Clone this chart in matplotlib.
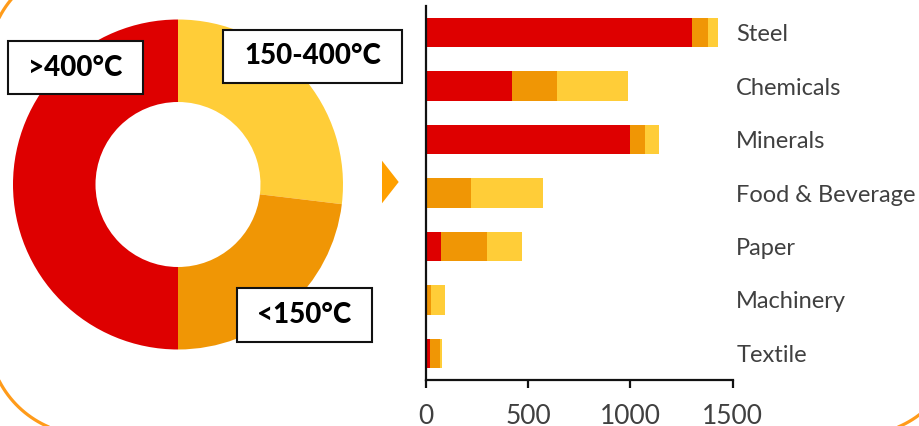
import matplotlib
matplotlib.use("Agg")
import matplotlib.pyplot as plt
from matplotlib.patches import Polygon, Rectangle
from matplotlib.lines import Line2D
from matplotlib.transforms import IdentityTransform
import numpy as np

plt.rcParams['font.family'] = ['Lato', 'DejaVu Sans']

# ---- data ----
donut_labels = [">400°C", "150-400°C", "<150°C"]
donut_values = [50.0, 26.9, 23.1]          # share of heat demand (%)

categories = ["Steel", "Chemicals", "Minerals", "Food & Beverage", "Paper", "Machinery", "Textile"]
above400 = [1300, 420, 1000, 0, 75, 0, 21]
below150 = [80, 220, 72, 220, 225, 24, 50]
mid150_400 = [50, 350, 70, 352, 171, 70, 9]
x_ticks = [0, 500, 1000, 1500]

RED = "#DE0000"
ORANGE = "#F09605"
YELLOW = "#FFCD38"

W, H = 920, 426
fig = plt.figure(figsize=(W / 100, H / 100), dpi=100)

# ---- donut ----
cx, cy, R = 178, 184.5, 165
dax = fig.add_axes([(cx - R) / W, (H - cy - R) / H, 2 * R / W, 2 * R / H])
vals = [donut_values[1], donut_values[2], donut_values[0]]
cols = [YELLOW, ORANGE, RED]
dax.pie(vals, colors=cols, startangle=90, counterclock=False, radius=1.0,
        wedgeprops=dict(width=0.5, edgecolor='none'))
dax.set_xlim(-1, 1)
dax.set_ylim(-1, 1)
dax.set_aspect('equal')
dax.axis('off')

# ---- bars ----
ax = fig.add_axes([425.7 / W, 46 / H, 307 / W, 374 / H])
y = np.arange(len(categories))
a = np.array(above400)
b = np.array(below150)
c = np.array(mid150_400)
ax.barh(y, a, height=0.55, color=RED, edgecolor='none')
ax.barh(y, b, left=a, height=0.55, color=ORANGE, edgecolor='none')
ax.barh(y, c, left=a + b, height=0.55, color=YELLOW, edgecolor='none')
ax.set_xlim(0, 1500)
ax.set_ylim(6.5, -0.5)
ax.set_xticks(x_ticks)
ax.set_xticklabels([str(t) for t in x_ticks])
ax.yaxis.tick_right()
ax.set_yticks(y)
ax.set_yticklabels(categories)
for s in ['top', 'right']:
    ax.spines[s].set_visible(False)
ax.spines['left'].set_linewidth(1.6)
ax.spines['bottom'].set_linewidth(1.6)
ax.spines['left'].set_color('#111111')
ax.spines['bottom'].set_color('#111111')
ax.tick_params(axis='x', length=6, width=1.6, color='#111111', pad=11,
               labelsize=19, labelcolor='#404040')
ax.tick_params(axis='y', length=0, pad=2.5, labelsize=17, labelcolor='#404040')

# ---- label boxes ----
boxes = [(8, 41, 143, 94), (223, 30, 402, 83), (237, 288, 372, 342)]
for lab, (x0, y0, x1, y1) in zip(donut_labels, boxes):
    fig.patches.append(Rectangle((x0 / W, (H - y1) / H), (x1 - x0) / W, (y1 - y0) / H,
                                 transform=fig.transFigure, facecolor='white',
                                 edgecolor='#111111', linewidth=1.5, zorder=5))
    fig.text((x0 + x1) / 2 / W, (H - (y0 + y1) / 2) / H, lab, ha='center', va='center',
             fontsize=20, fontweight='black', color='black', zorder=6)

# ---- arrow triangle ----
fig.patches.append(Polygon([(382, H - 160.7), (382, H - 203.3), (398.7, H - 182)],
                           closed=True, transform=IdentityTransform(),
                           facecolor='#FFA000', edgecolor='none'))

# ---- rounded frame (pixel coords, origin bottom-left) ----
fx0, fx1, fy0, fy1, rr = -12, 959, -9, 462.5, 100
t = np.linspace(0, np.pi / 2, 40)
px, py = [], []
for (ccx, ccy, a0) in [(fx1 - rr, fy0 + rr, -np.pi / 2), (fx1 - rr, fy1 - rr, 0),
                       (fx0 + rr, fy1 - rr, np.pi / 2), (fx0 + rr, fy0 + rr, np.pi)]:
    px.extend(ccx + rr * np.cos(a0 + t))
    py.extend(ccy + rr * np.sin(a0 + t))
px.append(px[0]); py.append(py[0])
fig.lines.append(Line2D(px, py, transform=IdentityTransform(), color='#FF9B1A',
                        linewidth=2.3, solid_capstyle='round'))

fig.savefig("out.png", dpi=100)
